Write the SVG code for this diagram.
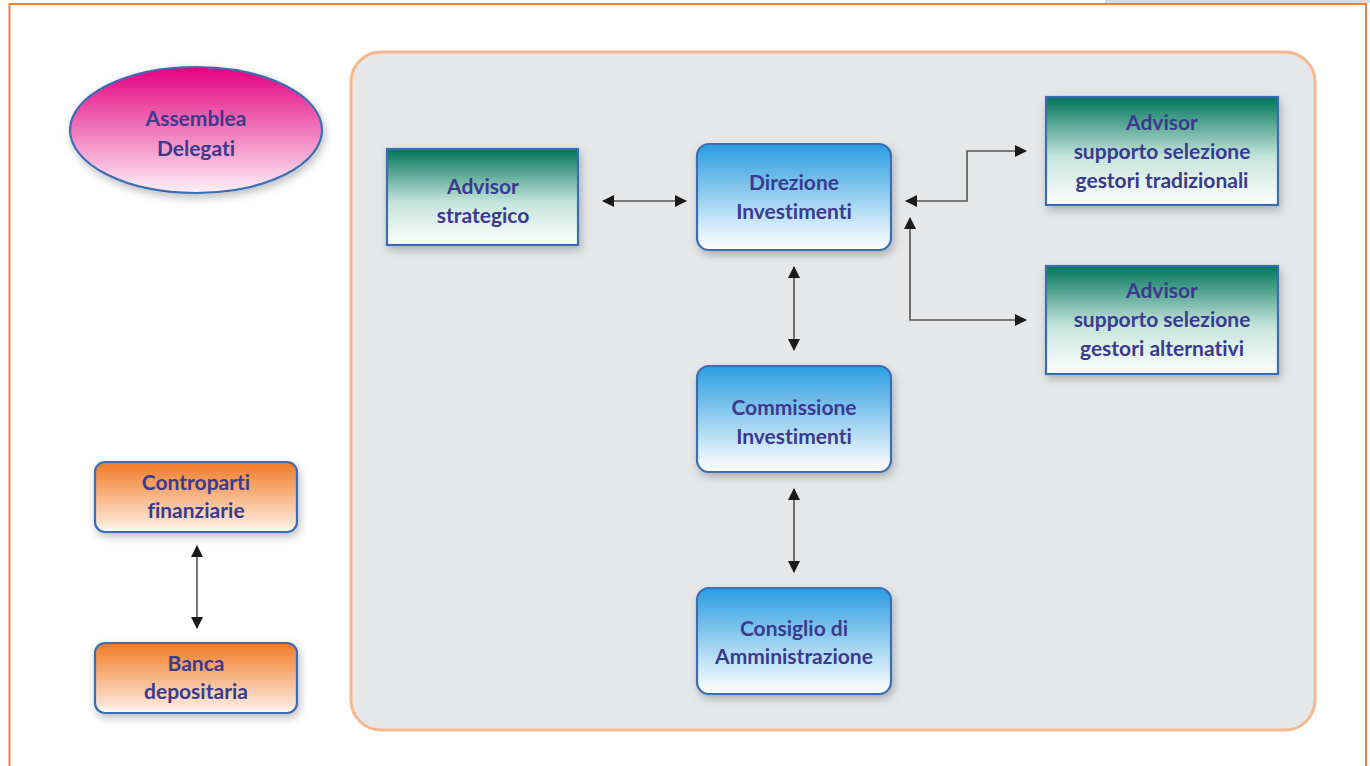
<svg xmlns="http://www.w3.org/2000/svg" width="1370" height="766" viewBox="0 0 1370 766">
<defs>
<linearGradient id="gPink" x1="0" y1="0" x2="0" y2="1"><stop offset="0" stop-color="#e4007f"/><stop offset="1" stop-color="#fdf1f7"/></linearGradient>
<linearGradient id="gGreen" x1="0" y1="0" x2="0" y2="1"><stop offset="0" stop-color="#00745a"/><stop offset="0.55" stop-color="#c4e4da"/><stop offset="1" stop-color="#ffffff"/></linearGradient>
<linearGradient id="gBlue" x1="0" y1="0" x2="0" y2="1"><stop offset="0" stop-color="#2a9de0"/><stop offset="0.85" stop-color="#e3f2fb"/><stop offset="1" stop-color="#ffffff"/></linearGradient>
<linearGradient id="gOrange" x1="0" y1="0" x2="0" y2="1"><stop offset="0" stop-color="#f07a24"/><stop offset="0.9" stop-color="#fde6d6"/><stop offset="1" stop-color="#ffffff"/></linearGradient>
<filter id="sh" x="-20%" y="-20%" width="140%" height="150%"><feDropShadow dx="2" dy="4" stdDeviation="4" flood-color="#000" flood-opacity="0.25"/></filter>
<marker id="ah" viewBox="0 0 12 12" refX="11" refY="6" markerWidth="12" markerHeight="12" markerUnits="userSpaceOnUse" orient="auto-start-reverse"><path d="M0,0 L12,6 L0,12 Z" fill="#1a1a1a"/></marker>
</defs>
<style>
.t{font-family:Lato,"Open Sans","Liberation Sans",sans-serif;font-weight:bold;font-size:21px;fill:#3a3a8e;text-anchor:middle;font-variant-ligatures:none}
.bx{stroke:#3b6db5;stroke-width:2.2}
.c{fill:none;stroke:#555;stroke-width:1.6}
</style>
<rect x="0" y="0" width="1370" height="766" fill="#ffffff"/>
<rect x="1105" y="0" width="265" height="3" fill="#dcdcdc"/>
<rect x="9.5" y="4" width="1356.5" height="800" fill="#ffffff" stroke="#f07e36" stroke-width="2"/>
<rect id="panel" x="351" y="52" width="964" height="678" rx="30" fill="#e6e7e8" stroke="#f6b88c" stroke-width="3"/>

<g id="assemblea">
<ellipse cx="196" cy="130" rx="126" ry="63" fill="url(#gPink)" class="bx" filter="url(#sh)"/>
<text class="t" x="196" y="126">Assemblea</text>
<text class="t" x="196" y="156">Delegati</text>
</g>
<g id="advisor-strategico">
<rect x="387" y="149" width="191" height="96" fill="url(#gGreen)" class="bx" filter="url(#sh)"/>
<text class="t" x="483" y="194">Advisor</text>
<text class="t" x="483" y="223">strategico</text>
</g>
<g id="direzione">
<rect x="697" y="144" width="194" height="106" rx="12" fill="url(#gBlue)" class="bx" filter="url(#sh)"/>
<text class="t" x="794" y="190">Direzione</text>
<text class="t" x="794" y="219">Investimenti</text>
</g>
<g id="commissione">
<rect x="697" y="366" width="194" height="106" rx="12" fill="url(#gBlue)" class="bx" filter="url(#sh)"/>
<text class="t" x="794" y="415">Commissione</text>
<text class="t" x="794" y="444">Investimenti</text>
</g>
<g id="consiglio">
<rect x="697" y="588" width="194" height="106" rx="12" fill="url(#gBlue)" class="bx" filter="url(#sh)"/>
<text class="t" x="794" y="636">Consiglio di</text>
<text class="t" x="794" y="664">Amministrazione</text>
</g>
<g id="advisor-tradizionali">
<rect x="1046" y="97" width="232" height="108" fill="url(#gGreen)" class="bx" filter="url(#sh)"/>
<text class="t" x="1162" y="130">Advisor</text>
<text class="t" x="1162" y="159">supporto selezione</text>
<text class="t" x="1162" y="188">gestori tradizionali</text>
</g>
<g id="advisor-alternativi">
<rect x="1046" y="266" width="232" height="108" fill="url(#gGreen)" class="bx" filter="url(#sh)"/>
<text class="t" x="1162" y="298">Advisor</text>
<text class="t" x="1162" y="327">supporto selezione</text>
<text class="t" x="1162" y="356">gestori alternativi</text>
</g>
<g id="controparti">
<rect x="95" y="462" width="202" height="70" rx="10" fill="url(#gOrange)" class="bx" filter="url(#sh)"/>
<text class="t" x="196" y="490">Controparti</text>
<text class="t" x="196" y="518">finanziarie</text>
</g>
<g id="banca">
<rect x="95" y="643" width="202" height="70" rx="10" fill="url(#gOrange)" class="bx" filter="url(#sh)"/>
<text class="t" x="196" y="671">Banca</text>
<text class="t" x="196" y="699">depositaria</text>
</g>

<g id="connectors">
<path class="c" d="M603,201 H686" marker-start="url(#ah)" marker-end="url(#ah)"/>
<path class="c" d="M794,267 V350" marker-start="url(#ah)" marker-end="url(#ah)"/>
<path class="c" d="M794,489 V572" marker-start="url(#ah)" marker-end="url(#ah)"/>
<path class="c" d="M197,546 V628" marker-start="url(#ah)" marker-end="url(#ah)"/>
<path class="c" d="M906,201 H967 V151 H1026" marker-start="url(#ah)" marker-end="url(#ah)"/>
<path class="c" d="M910,218 V320 H1026" marker-start="url(#ah)" marker-end="url(#ah)"/>
</g>
</svg>
